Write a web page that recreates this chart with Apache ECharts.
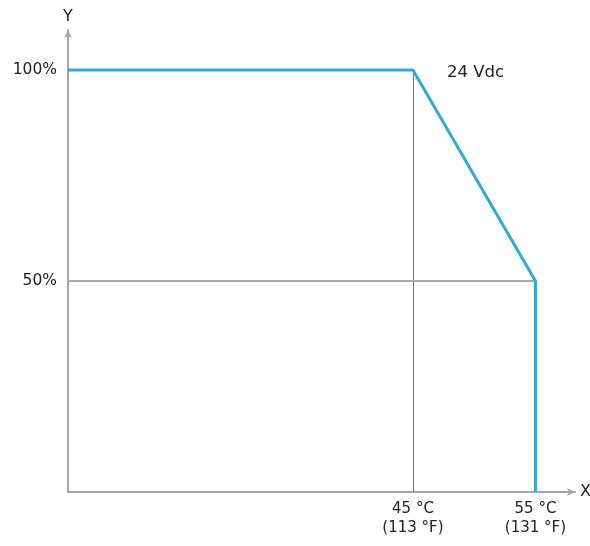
<!DOCTYPE html>
<html><head><meta charset="utf-8">
<script src="https://cdn.jsdelivr.net/npm/echarts@6/dist/echarts.min.js"></script>
<style>html,body{margin:0;padding:0;background:#fff}#c{width:590px;height:546px}</style>
</head><body><div id="c"></div>
<script>
// Derating curve data
const tempC = [16.84, 45, 55, 55];          // x values (°C); first is the origin of the axis
const loadPct = [100, 100, 50, 0];          // y values (%)
const xTickValues = [45, 55];
const xTickLabels = ['45 °C\n(113 °F)', '55 °C\n(131 °F)'];
const yTickValues = [50, 100];
const yTickLabels = ['50%', '100%'];
const curveName = '24 Vdc';
const xMin = 16.84, xMax = 58.23, yMin = 0, yMax = 109.5;

const chart = echarts.init(document.getElementById('c'));
const fontFam = '"DejaVu Sans", sans-serif';
const txt = '#222';
chart.setOption({
  animation: false,
  grid: {left: 68, right: 15, top: 30, bottom: 54, containLabel: false, outerBoundsMode: 'none'},
  xAxis: {
    type: 'value', min: xMin, max: xMax,
    name: 'X', nameLocation: 'end', nameGap: 5,
    nameTextStyle: {color: txt, fontSize: 16, fontFamily: fontFam, verticalAlign: 'middle'},
    axisLine: {show: true, lineStyle: {color: '#a6a6a6', width: 2}, symbol: ['none', 'arrow'], symbolSize: [6, 8], symbolOffset: [0, 0]},
    axisTick: {show: false},
    splitLine: {show: false},
    axisLabel: {
      customValues: xTickValues,
      formatter: v => xTickLabels[xTickValues.indexOf(v)] || '',
      color: txt, fontSize: 15, fontFamily: fontFam, lineHeight: 19, margin: 8
    }
  },
  yAxis: {
    type: 'value', min: yMin, max: yMax,
    name: 'Y', nameLocation: 'end', nameGap: 5,
    nameTextStyle: {color: txt, fontSize: 16, fontFamily: fontFam, align: 'center'},
    axisLine: {show: true, lineStyle: {color: '#a6a6a6', width: 2}, symbol: ['none', 'arrow'], symbolSize: [6, 8], symbolOffset: [0, 0]},
    axisTick: {show: false},
    splitLine: {show: false},
    axisLabel: {
      customValues: yTickValues,
      formatter: v => yTickLabels[yTickValues.indexOf(v)] || '',
      color: txt, fontSize: 15.5, fontFamily: fontFam, margin: 11
    }
  },
  series: [{
    type: 'line',
    name: curveName,
    data: tempC.map((x, i) => [x, loadPct[i]]),
    symbol: 'none',
    z: 5,
    lineStyle: {color: '#33a9d8', width: 3},
    markLine: {
      silent: true, symbol: 'none', z: 1,
      label: {show: false},
      data: [
        [{coord: [xTickValues[0], yMin], lineStyle: {color: '#777', width: 1, type: 'solid'}}, {coord: [xTickValues[0], yTickValues[1]]}],
        [{coord: [xMin, yTickValues[0]], lineStyle: {color: '#aaa', width: 2, type: 'solid'}}, {coord: [xTickValues[1], yTickValues[0]]}]
      ]
    },
    markPoint: {
      silent: true,
      symbol: 'circle', symbolSize: 0,
      data: [{coord: [xTickValues[0], yTickValues[1]]}],
      label: {show: true, formatter: curveName, color: txt, fontSize: 16.5, fontFamily: fontFam, position: 'right', offset: [29, 3]}
    }
  }]
});
</script></body></html>
